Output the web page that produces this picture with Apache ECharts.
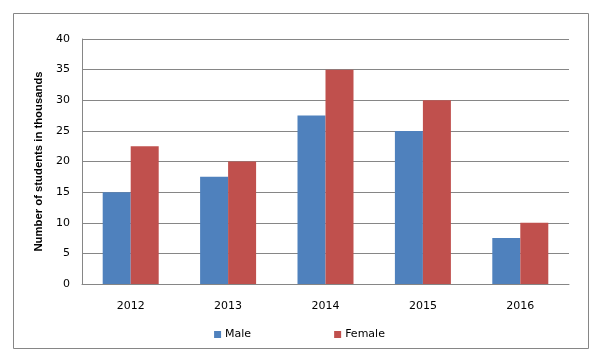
<!DOCTYPE html>
<html>
<head>
<meta charset="utf-8">
<script src="https://cdn.jsdelivr.net/npm/echarts@6/dist/echarts.min.js"></script>
<style>html,body{margin:0;padding:0;background:#fff}#c{width:599px;height:361px}</style>
</head>
<body>
<div id="c"></div>
<script>
const categories = ['2012', '2013', '2014', '2015', '2016'];
const maleValues = [15, 17.5, 27.5, 25, 7.5];
const femaleValues = [22.5, 20, 35, 30, 10];
const yTicks = { min: 0, max: 40, interval: 5 };

const chart = echarts.init(document.getElementById('c'), null, { renderer: 'canvas' });
const gray = '#868686';
chart.setOption({
  animation: false,
  graphic: [{
    type: 'rect', shape: { x: 13.5, y: 13.5, width: 575, height: 335 },
    style: { fill: 'none', stroke: gray, lineWidth: 1 }, silent: true, z: -1
  }],
  grid: { left: 82, right: 30, top: 39, bottom: 77 },
  legend: {
    data: ['Male', 'Female'], bottom: 16, left: 'center',
    icon: 'rect', itemWidth: 7, itemHeight: 7, itemGap: 83,
    textStyle: { fontFamily: 'DejaVu Sans', fontSize: 11, color: '#000', padding: [0, 0, 0, -1] }
  },
  xAxis: {
    type: 'category', data: categories,
    axisLine: { lineStyle: { color: gray } },
    axisTick: { show: false },
    axisLabel: { fontFamily: 'DejaVu Sans', fontSize: 11, color: '#000', margin: 17 }
  },
  yAxis: {
    type: 'value', min: yTicks.min, max: yTicks.max, interval: yTicks.interval,
    name: 'Number of students in thousands', nameLocation: 'middle', nameRotate: 90, nameGap: 38,
    nameTextStyle: { fontFamily: 'Liberation Sans', fontWeight: 'bold', fontSize: 11.3, color: '#000' },
    axisLine: { show: true, lineStyle: { color: gray } },
    axisTick: { show: false },
    splitLine: { lineStyle: { color: gray, width: 1 } },
    axisLabel: { fontFamily: 'DejaVu Sans', fontSize: 11, color: '#000', margin: 12 }
  },
  series: [
    { name: 'Male', type: 'bar', data: maleValues, barWidth: 28, barGap: '0%', itemStyle: { color: '#4F81BD' } },
    { name: 'Female', type: 'bar', data: femaleValues, barWidth: 28, barGap: '0%', itemStyle: { color: '#C0504D' } }
  ]
});
</script>
</body>
</html>
